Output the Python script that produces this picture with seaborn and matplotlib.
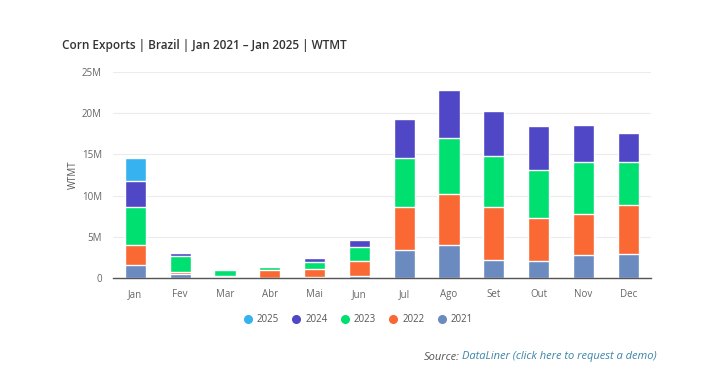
import numpy as np
import pandas as pd
import matplotlib
matplotlib.use("Agg")
import matplotlib.pyplot as plt
from matplotlib.lines import Line2D
import seaborn as sns

# Monthly corn exports (million tonnes)
months = ['Jan', 'Fev', 'Mar', 'Abr', 'Mai', 'Jun', 'Jul', 'Ago', 'Set', 'Out', 'Nov', 'Dec']
y2021 = [1.62, 0.45, 0.10, 0.05, 0.10, 0.28, 3.36, 4.01, 2.23, 2.02, 2.75, 2.96]
y2022 = [2.35, 0.30, 0.15, 0.95, 0.99, 1.79, 5.31, 6.16, 6.36, 5.23, 5.07, 5.92]
y2023 = [4.62, 1.88, 0.74, 0.31, 0.81, 1.70, 5.85, 6.81, 6.17, 5.89, 6.25, 5.19]
y2024 = [3.21, 0.41, 0.10, 0.10, 0.53, 0.85, 4.70, 5.84, 5.47, 5.26, 4.50, 3.53]
y2025 = [2.70, 0, 0, 0, 0, 0, 0, 0, 0, 0, 0, 0]

years = ['2021', '2022', '2023', '2024', '2025']
colors = {'2021': '#6b8bc0', '2022': '#fa6834', '2023': '#00e070',
          '2024': '#4f47c6', '2025': '#35b2ef'}

df = pd.DataFrame({'month': months, '2021': y2021, '2022': y2022,
                   '2023': y2023, '2024': y2024, '2025': y2025})
# cumulative tops for stacking
cum = df[years].cumsum(axis=1) * 1e6

sns.set_style('white')
plt.rcParams['font.family'] = ['Open Sans', 'DejaVu Sans']

fig = plt.figure(figsize=(7.15, 3.84), dpi=100)
ax = fig.add_axes([0.158, 0.276, 0.752, 0.537])

# draw from the top layer down so each lower layer overlays the one above
for yr in reversed(years):
    sns.barplot(x=df['month'], y=cum[yr], color=colors[yr], width=0.47,
                edgecolor='white', linewidth=1.0, saturation=1, ax=ax)

ax.set_ylim(0, 25e6)
ax.set_xlim(-0.5, 11.5)
ax.set_yticks(np.arange(0, 26e6, 5e6))
ax.set_yticklabels(['0', '5M', '10M', '15M', '20M', '25M'])
ax.yaxis.grid(True, color='#ececec', linewidth=0.8)
ax.set_axisbelow(True)
for s in ['top', 'right', 'left']:
    ax.spines[s].set_visible(False)
ax.spines['bottom'].set_color('#555555')
ax.spines['bottom'].set_linewidth(1.0)
ax.tick_params(axis='both', length=0, labelsize=7, colors='#666666', pad=8)
ax.set_xlabel('')
ax.set_ylabel('WTMT', fontsize=7, color='#555555', labelpad=2)

fig.text(62 / 715, 1 - 46 / 384, 'Corn Exports | Brazil | Jan 2021 \u2013 Jan 2025 | WTMT',
         fontsize=8.5, color='#333333', va='center', ha='left', fontweight='semibold')

handles = [Line2D([0], [0], marker='o', linestyle='', markersize=5.5,
                  markerfacecolor=colors[yr], markeredgecolor=colors[yr], label=yr)
           for yr in reversed(years)]
leg = fig.legend(handles=handles, loc='center', bbox_to_anchor=(358 / 715, 1 - 320 / 384),
                 ncol=5, frameon=False, fontsize=7, handlelength=1.0,
                 handletextpad=0.4, columnspacing=1.3)
for t in leg.get_texts():
    t.set_color('#555555')

src = fig.text(657 / 715, 1 - 357 / 384, 'DataLiner (click here to request a demo)',
               fontsize=8, style='italic', color='#3d84a8', ha='right', va='center')
fig.canvas.draw()
bb = src.get_window_extent(renderer=fig.canvas.get_renderer())
fig.text((bb.x0 - 3) / fig.bbox.width, 1 - 357 / 384, 'Source:',
         fontsize=8, style='italic', color='#555555', ha='right', va='center')

fig.savefig('out.png', dpi=100, facecolor='white')
